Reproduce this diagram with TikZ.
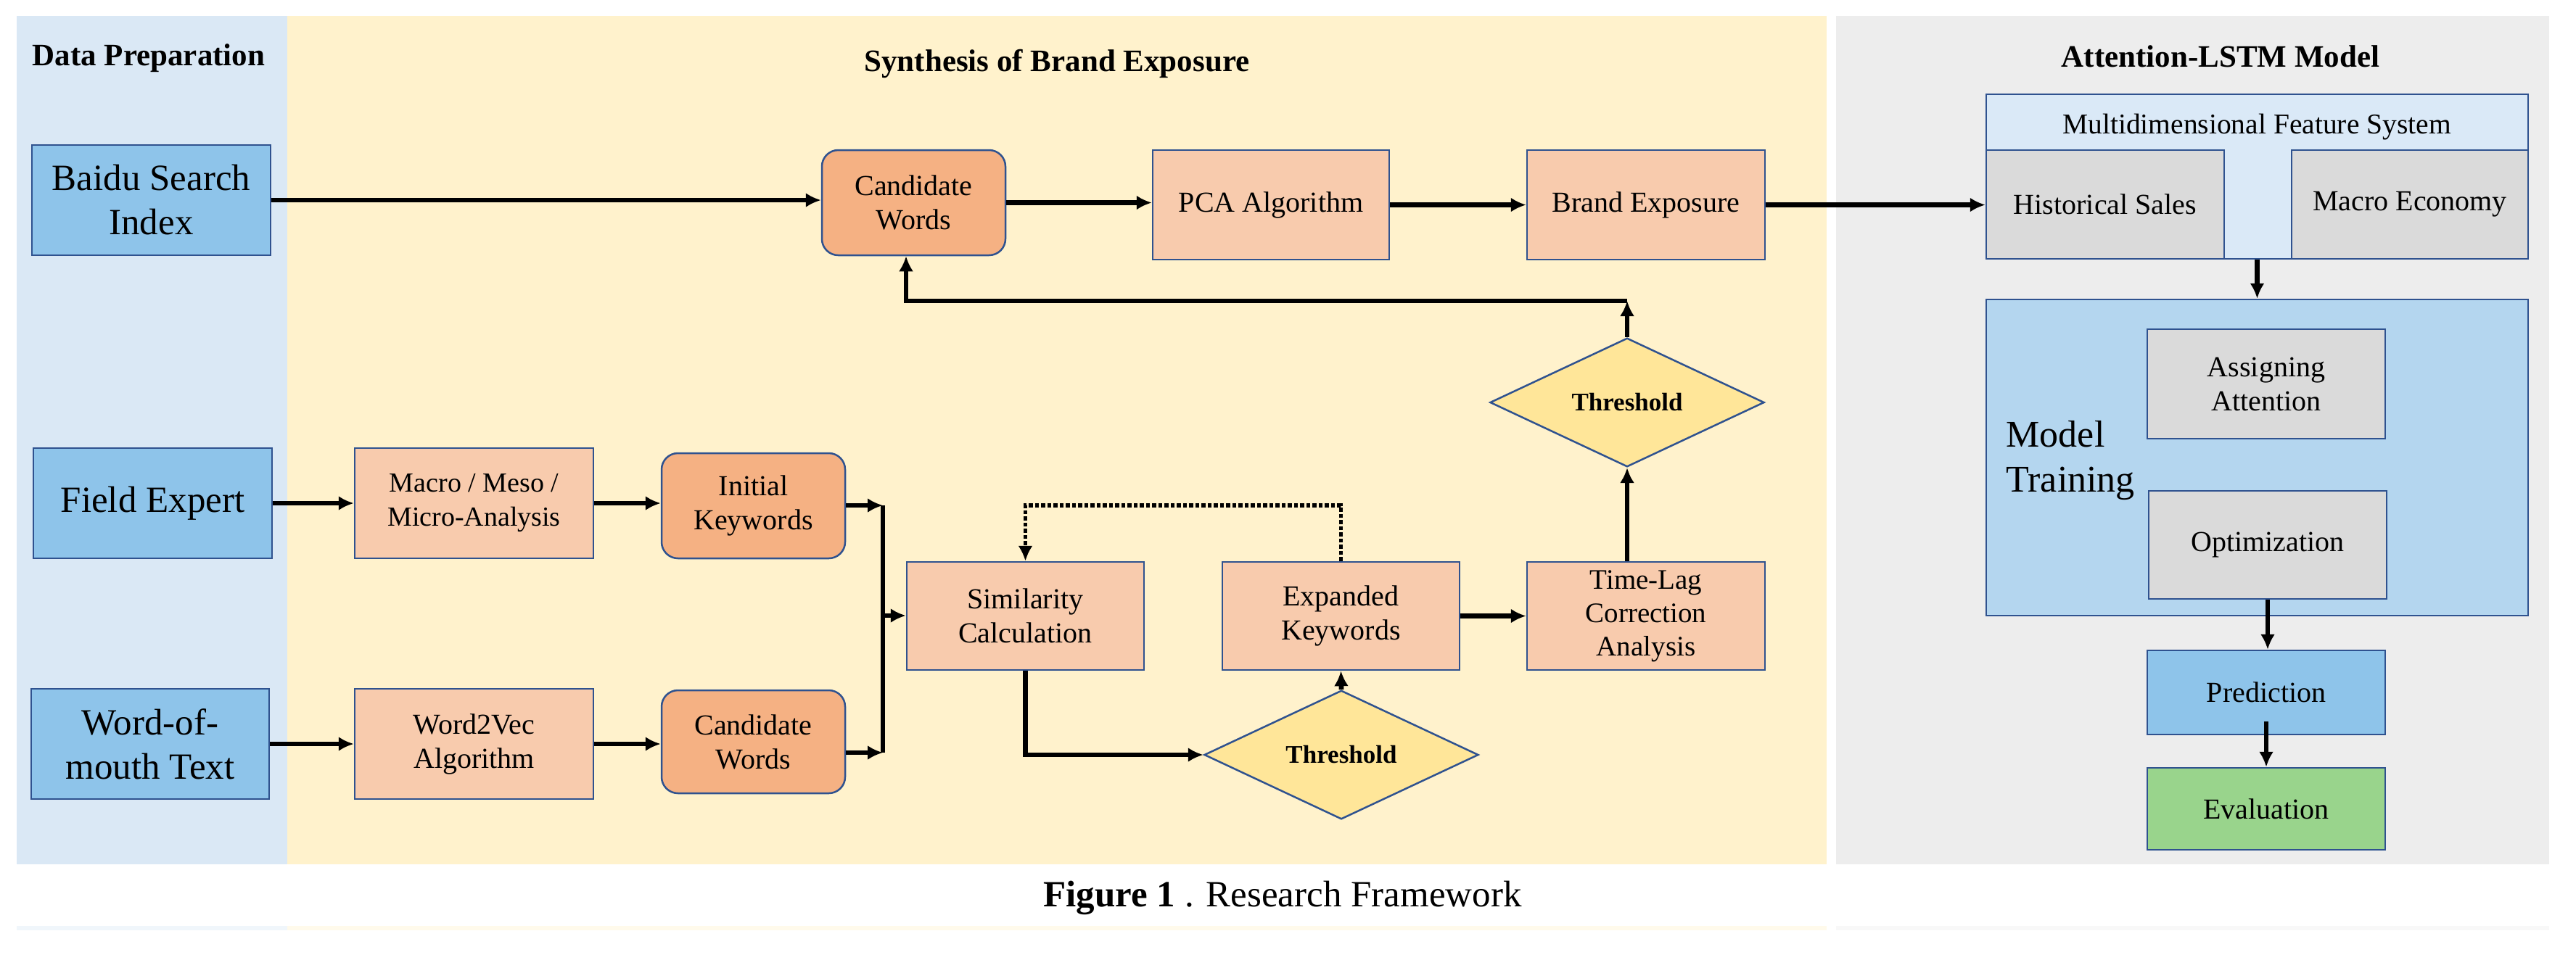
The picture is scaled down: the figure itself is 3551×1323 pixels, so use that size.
\documentclass[tikz,border=0pt]{standalone}
\usepackage{fontspec}
\setmainfont{Liberation Serif}
\usetikzlibrary{arrows.meta,shapes.geometric}
\definecolor{panelblue}{HTML}{DAE8F5}
\definecolor{panelyellow}{HTML}{FFF2CC}
\definecolor{panelgray}{HTML}{EDEDED}
\definecolor{srcblue}{HTML}{8EC4EA}
\definecolor{lorange}{HTML}{F8CBAD}
\definecolor{dorange}{HTML}{F5B183}
\definecolor{goldfill}{HTML}{FFE699}
\definecolor{graybox}{HTML}{DADADA}
\definecolor{trainblue}{HTML}{B4D6EF}
\definecolor{mfsblue}{HTML}{DAE9F7}
\definecolor{evalgreen}{HTML}{99D48C}
\definecolor{bordc}{HTML}{2F528F}
\begin{document}
\begin{tikzpicture}[x=0.2pt,y=-0.2pt,
  rect/.style n args={4}{at={({(#1+#3)/2},{(#2+#4)/2})}, minimum width={(#3-#1)*0.2pt}, minimum height={(#4-#2)*0.2pt}},
  bx/.style={draw=bordc, line width=0.5pt, inner sep=0pt, align=center, font=\fontsize{8}{9.4}\selectfont},
  srcbox/.style={bx, fill=srcblue, font=\fontsize{10.2}{12.2}\selectfont},
  lobox/.style={bx, fill=lorange},
  dobox/.style={bx, fill=dorange, rounded corners=4.5pt},
  graybx/.style={bx, fill=graybox},
  thr/.style={draw=bordc, line width=0.5pt, fill=goldfill, shape=diamond, inner sep=0pt, minimum width=75.6pt, minimum height=29.6pt, font=\bfseries\fontsize{7}{8.4}\selectfont},
  arr/.style={line width=1.35pt, -{Latex[length=4.2pt,width=4pt]}},
  ln/.style={line width=1.35pt},
  dotarr/.style={line width=1.1pt, dash pattern=on 1.1pt off 0.6pt, -{Latex[length=4.2pt,width=4pt]}},
  ttl/.style={font=\bfseries\fontsize{8.6}{10}\selectfont}
]
\useasboundingbox (0,0) rectangle (3551,1323);
\fill[white] (0,0) rectangle (3551,1323);
% panels
\fill[panelblue] (23,22) rectangle (396,1192);
\fill[panelyellow] (396,22) rectangle (2518,1192);
\fill[panelgray] (2531,22) rectangle (3514,1192);
% faint trace of the panels below the caption
\fill[panelblue!40] (23,1277) rectangle (396,1283);
\fill[panelyellow!40] (396,1277) rectangle (2518,1283);
\fill[panelgray!40] (2531,1277) rectangle (3514,1283);
% titles
\node[ttl] (t1) at (205,80) {Data Preparation};
\node[ttl] (t2) at (1457,88) {Synthesis of Brand Exposure};
\node[ttl] (t3) at (3061,78) {Attention-LSTM Model};
% data sources
\node[srcbox, rect={44}{200}{373}{352}] (baidu) {Baidu Search\\Index};
\node[srcbox, rect={46}{618}{375}{770}] (field) {Field Expert};
\node[srcbox, rect={43}{950}{371}{1102}] (wom) {Word-of-\\mouth Text};
% synthesis
\node[lobox, font=\fontsize{7.6}{9.4}\selectfont, rect={489}{618}{818}{770}] (macro) {Macro / Meso /\\Micro-Analysis};
\node[lobox, rect={489}{950}{818}{1102}] (w2v) {Word2Vec\\Algorithm};
\node[dobox, rect={912}{625}{1165}{770}] (initkw) {Initial\\Keywords};
\node[dobox, rect={912}{952}{1165}{1094}] (cand2) {Candidate\\Words};
\node[dobox, rect={1133}{207}{1386}{352}] (cand1) {Candidate\\Words};
\node[lobox, rect={1589}{207}{1915}{358}] (pca) {PCA Algorithm};
\node[lobox, rect={2105}{207}{2433}{358}] (brand) {Brand Exposure};
\node[thr] (thr1) at (2243,555) {Threshold};
\node[lobox, rect={1250}{775}{1577}{924}] (sim) {Similarity\\Calculation};
\node[lobox, rect={1685}{775}{2012}{924}] (exp) {Expanded\\Keywords};
\node[lobox, font=\fontsize{7.8}{9.2}\selectfont, rect={2105}{775}{2433}{924}] (tlag) {Time-Lag\\Correction\\Analysis};
\node[thr] (thr2) at (1849,1041) {Threshold};
% model
\node[bx, fill=mfsblue, rect={2738}{130}{3485}{357}] (mfs) {};
\node[font=\fontsize{7.9}{9.5}\selectfont] (mfst) at (3111,175) {Multidimensional Feature System};
\node[graybx, rect={2738}{207}{3066}{357}] (hist) {Historical Sales};
\node[graybx, rect={3159}{207}{3485}{357}] (meco) {Macro Economy};
\node[bx, fill=trainblue, rect={2738}{413}{3485}{849}] (train) {};
\node[anchor=west, align=left, font=\fontsize{10.4}{12.4}\selectfont] (traint) at (2748,635) {Model\\Training};
\node[graybx, rect={2960}{454}{3288}{605}] (assign) {Assigning\\Attention};
\node[graybx, rect={2962}{677}{3290}{826}] (optim) {Optimization};
\node[bx, fill=srcblue, rect={2960}{897}{3288}{1013}] (pred) {Prediction};
\node[bx, fill=evalgreen, rect={2960}{1059}{3288}{1172}] (eval) {Evaluation};
% caption
\node[font=\fontsize{10.2}{12}\selectfont] (cap) at (1768,1238) {\textbf{Figure 1} . Research Framework};
% connectors
\draw[arr] (baidu.east) -- (baidu.east -| cand1.west);
\draw[arr] (cand1.east) -- (cand1.east -| pca.west);
\draw[arr] (pca.east) -- (brand.west);
\draw[arr] (brand.east) -- (brand.east -| hist.west);
\draw[arr] (mfs.south) -- (train.north);
\draw[arr] (optim.south) -- (optim.south |- pred.north);
\draw[arr] ([yshift=3.8pt]pred.south) -- (eval.north);
\draw[arr] (field.east) -- (field.east -| macro.west);
\draw[arr] (macro.east) -- (macro.east -| initkw.west);
\draw[arr] (wom.east) -- (wom.east -| w2v.west);
\draw[arr] (w2v.east) -- (w2v.east -| cand2.west);
\coordinate (m1) at (1217,697);
\coordinate (m2) at (1217,1038);
\coordinate (m3) at (1217,849);
\draw[arr] (initkw.east |- m1) -- (m1);
\draw[arr] (cand2.east |- m2) -- (m2);
\draw[ln] (m1) -- (m2);
\draw[arr] (m3) -- (m3 -| sim.west);
\draw[arr] (sim.south) |- (thr2.west);
\draw[arr] (thr2.north) -- (exp.south);
\draw[arr] (exp.east) -- (tlag.west);
\draw[arr] (thr1.south |- tlag.north) -- (thr1.south);
\coordinate (f1) at (2243,415);
\coordinate (f2) at (1249,415);
\draw[arr] (thr1.north) -- (f1);
\draw[arr] (f1) -- (f2) -- (f2 |- cand1.south);
\coordinate (dl) at (0,697);
\draw[dotarr] (exp.north) -- (exp.north |- dl) -- (sim.north |- dl) -- (sim.north);
\end{tikzpicture}
\end{document}
